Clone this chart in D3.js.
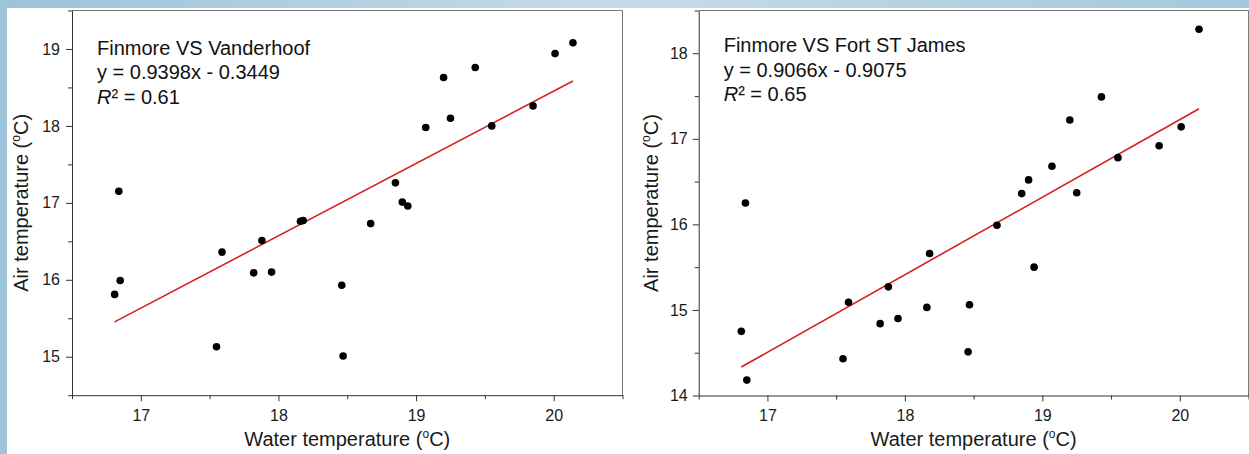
<!DOCTYPE html>
<html>
<head>
<meta charset="utf-8">
<script src="https://cdn.jsdelivr.net/npm/d3@7"></script>
<style>
    body { margin: 0; padding: 0; background: #fff; }
    svg text { font-family: "Liberation Sans", Arial, sans-serif; }
</style>
</head>
<body>
<div id="chart"></div>
<script>
// Water temperature (shared by both panels)
var waterTemp = [16.81, 16.84, 16.85, 17.55, 17.59, 17.82, 17.88, 17.95, 18.16, 18.18, 18.46, 18.47,
    18.67, 18.85, 18.90, 18.94, 19.07, 19.20, 19.25, 19.43, 19.55, 19.85, 20.01, 20.14];
// Air temperature at Vanderhoof
var airVanderhoof = [15.81, 17.15, 15.99, 15.13, 16.36, 16.09, 16.51, 16.10, 16.76, 16.77, 15.93, 15.01,
    16.73, 17.26, 17.01, 16.96, 17.98, 18.63, 18.10, 18.76, 18.00, 18.26, 18.94, 19.08];
// Air temperature at Fort St James
var airFortStJames = [14.75, 16.25, 14.18, 14.43, 15.09, 14.84, 15.27, 14.90, 15.03, 15.66, 14.51, 15.06,
    15.99, 16.36, 16.52, 15.50, 16.68, 17.22, 16.37, 17.49, 16.78, 16.92, 17.14, 18.28];

var xTicks = [17, 18, 19, 20];
var xMinor = [16.5, 17.5, 18.5, 19.5, 20.5];
var yTicksLeft = [15, 16, 17, 18, 19];
var yMinorLeft = [14.5, 15.5, 16.5, 17.5, 18.5, 19.5];
var yTicksRight = [14, 15, 16, 17, 18];
var yMinorRight = [14.5, 15.5, 16.5, 17.5, 18.5];

var fitLeft = { slope: 0.9398, intercept: -0.3449, r2: "0.61", title: "Finmore VS Vanderhoof" };
var fitRight = { slope: 0.9066, intercept: -0.9075, r2: "0.65", title: "Finmore VS Fort ST James" };

var W = 1249, H = 454;
var svg = d3.select("#chart").append("svg").attr("width", W).attr("height", H);

// light blue slide border
var grad = svg.append("defs").append("linearGradient").attr("id", "topgrad");
grad.append("stop").attr("offset", "0%").attr("stop-color", "#9cc3da");
grad.append("stop").attr("offset", "50%").attr("stop-color", "#c6dbe8");
grad.append("stop").attr("offset", "100%").attr("stop-color", "#a3c8dc");
svg.append("rect").attr("width", W).attr("height", H).attr("fill", "#fff");
svg.append("rect").attr("width", W).attr("height", 8).attr("fill", "url(#topgrad)");
svg.append("rect").attr("width", 7).attr("height", H).attr("fill", "#9dc4da");

function drawPanel(cfg) {
    var x = d3.scaleLinear().domain([16.5, 20.5]).range([cfg.left, cfg.right]);
    var y = d3.scaleLinear().domain(cfg.yDomain).range([cfg.bottom, cfg.top]);
    var g = svg.append("g");

    // frame top and right
    g.append("path")
        .attr("d", "M" + cfg.left + "," + cfg.top + "H" + cfg.right + "V" + cfg.bottom)
        .attr("fill", "none").attr("stroke", "#777").attr("stroke-width", 1);

    // minor ticks
    g.append("g").attr("transform", "translate(0," + cfg.bottom + ")")
        .call(d3.axisBottom(x).tickValues(xMinor).tickSize(4).tickFormat(""))
        .call(s => s.select(".domain").remove());
    g.append("g").attr("transform", "translate(" + cfg.left + ",0)")
        .call(d3.axisLeft(y).tickValues(cfg.yMinor).tickSize(4).tickFormat(""))
        .call(s => s.select(".domain").remove());

    // major axes
    var xa = g.append("g").attr("transform", "translate(0," + cfg.bottom + ")")
        .call(d3.axisBottom(x).tickValues(xTicks).tickSize(6).tickPadding(8).tickSizeOuter(0).tickFormat(d3.format("d")));
    var ya = g.append("g").attr("transform", "translate(" + cfg.left + ",0)")
        .call(d3.axisLeft(y).tickValues(cfg.yTicks).tickSize(6).tickPadding(cfg.yPad).tickSizeOuter(0).tickFormat(d3.format("d")));
    [xa, ya].forEach(function(a) {
        a.selectAll("text").style("font-size", "16px").attr("fill", "#1a1a1a");
        a.selectAll("line, .domain").attr("stroke", "#333");
    });
    g.selectAll(".tick line").attr("stroke", "#333");

    // axis titles
    var xt = g.append("text").attr("x", (cfg.left + cfg.right) / 2).attr("y", 446)
        .attr("text-anchor", "middle").style("font-size", "20px").attr("fill", "#1a1a1a");
    xt.append("tspan").text("Water temperature (");
    xt.append("tspan").attr("dy", -8).style("font-size", "12px").text("o");
    xt.append("tspan").attr("dy", 8).text("C)");

    var yt = g.append("text")
        .attr("transform", "translate(" + cfg.yTitleX + "," + (cfg.top + cfg.bottom) / 2 + ") rotate(-90)")
        .attr("text-anchor", "middle").style("font-size", "20px").attr("fill", "#1a1a1a");
    yt.append("tspan").text("Air temperature (");
    yt.append("tspan").attr("dy", -8).style("font-size", "12px").text("o");
    yt.append("tspan").attr("dy", 8).text("C)");

    // regression line
    var xr = d3.extent(waterTemp);
    g.append("line")
        .attr("x1", x(xr[0])).attr("y1", y(cfg.fit.slope * xr[0] + cfg.fit.intercept))
        .attr("x2", x(xr[1])).attr("y2", y(cfg.fit.slope * xr[1] + cfg.fit.intercept))
        .attr("stroke", "#d42020").attr("stroke-width", 1.6);

    // points
    g.append("g").selectAll("circle").data(cfg.air).enter().append("circle")
        .attr("cx", function(d, i) { return x(waterTemp[i]); })
        .attr("cy", function(d) { return y(d); })
        .attr("r", 3.8).attr("fill", "#000");

    // annotation
    var ann = g.append("g").attr("transform", "translate(" + (cfg.left + 25) + "," + cfg.annY + ")")
        .style("font-size", "20px").attr("fill", "#111");
    ann.append("text").attr("y", 0).text(cfg.fit.title);
    ann.append("text").attr("y", 24.5)
        .text("y = " + cfg.fit.slope.toFixed(4) + "x - " + Math.abs(cfg.fit.intercept).toFixed(4));
    var r = ann.append("text").attr("y", 49);
    r.append("tspan").style("font-style", "italic").text("R");
    r.append("tspan").text("\u00b2 = " + cfg.fit.r2);
}

drawPanel({ left: 72, right: 622.5, top: 10.5, bottom: 395.2, yDomain: [14.5, 19.5],
    yTicks: yTicksLeft, yMinor: yMinorLeft, yPad: 6, yTitleX: 28, annY: 54.5,
    air: airVanderhoof, fit: fitLeft });
drawPanel({ left: 698.7, right: 1248.5, top: 10.5, bottom: 395.5, yDomain: [14, 18.5],
    yTicks: yTicksRight, yMinor: yMinorRight, yPad: 5, yTitleX: 658, annY: 52,
    air: airFortStJames, fit: fitRight });
</script>
</body>
</html>
